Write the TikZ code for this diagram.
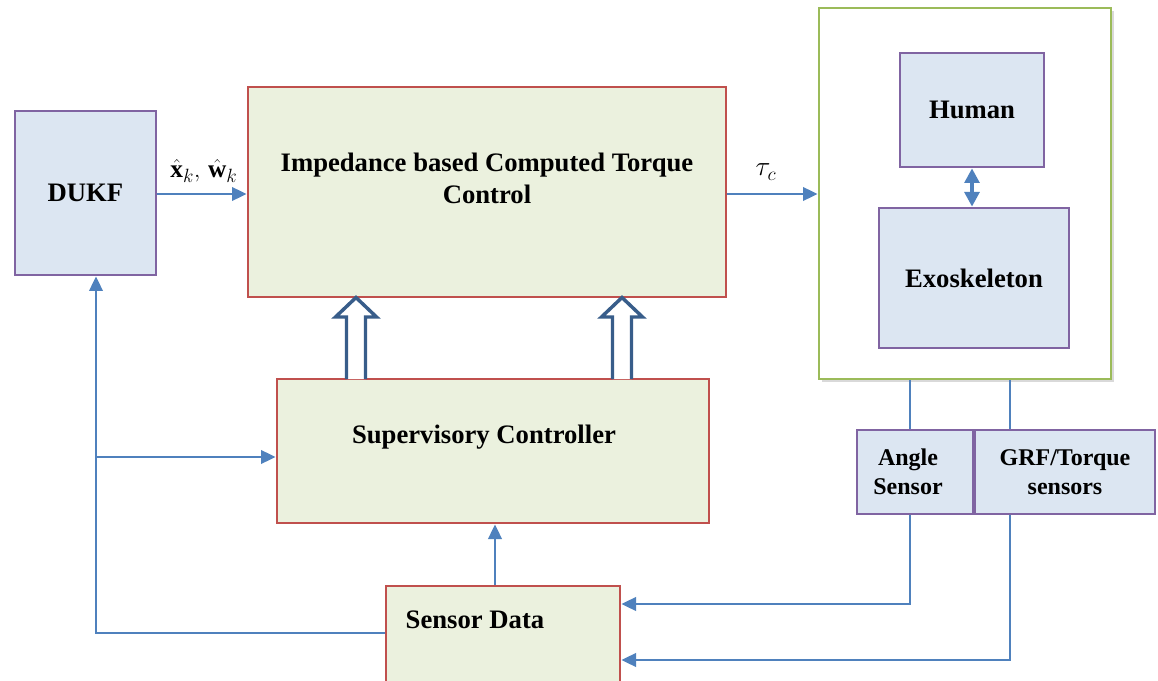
\documentclass[tikz,border=0pt]{standalone}
\usepackage{fontspec}
\setmainfont{Liberation Serif}
\usepackage{amsmath,bm}
\usetikzlibrary{arrows.meta,calc}
\definecolor{bfill}{HTML}{DCE6F2}
\definecolor{bdraw}{HTML}{8064A2}
\definecolor{gfill}{HTML}{EBF1DE}
\definecolor{rdraw}{HTML}{C0504D}
\definecolor{gdraw}{HTML}{9BBB59}
\definecolor{lineblue}{HTML}{4F81BD}
\definecolor{hollow}{HTML}{385D8A}
\tikzset{
  bluebox/.style={draw=bdraw,fill=bfill,line width=2pt,inner sep=0pt},
  greenbox/.style={draw=rdraw,fill=gfill,line width=2pt,inner sep=0pt},
  lbl/.style={font=\fontsize{20}{24}\selectfont\bfseries,align=center,inner sep=0pt},
  slbl/.style={font=\fontsize{18}{22}\selectfont\bfseries,align=center,inner sep=0pt},
  conn/.style={draw=lineblue,line width=2pt},
  arr/.style={conn,-{Triangle[length=11pt,width=10pt]}},
  hollowarrow/.style={draw=hollow,fill=white,line width=2.6pt,line join=miter}
}
\begin{document}
\begin{tikzpicture}[x=0.75pt,y=-0.75pt]
\clip (0,0) rectangle (1158,681);
\fill[white] (0,0) rectangle (1158,681);
% boxes
\node[bluebox,minimum width=105.75pt,minimum height=123pt] (dukf) at (85.5,193) {};
\node[lbl] (dukft) at (85.5,193) {DUKF};
\node[greenbox,minimum width=358.5pt,minimum height=157.5pt] (ictc) at (487,192) {};
\node[lbl] (ictct) at (487,178) {Impedance based Computed Torque\\Control};
\fill[black!15] (822,11) rectangle (1114,382);
\node[draw=gdraw,fill=white,line width=2pt,inner sep=0pt,minimum width=219pt,minimum height=278.25pt] (plant) at (965,193.5) {};
\node[bluebox,minimum width=108pt,minimum height=85.5pt] (human) at (972,110) {};
\node[lbl] (humant) at (972,110) {Human};
\node[bluebox,minimum width=142.5pt,minimum height=105pt] (exo) at (974,278) {};
\node[lbl] (exot) at (974,278) {Exoskeleton};
\node[greenbox,minimum width=324pt,minimum height=108pt] (sup) at (493,451) {};
\node[lbl] (supt) at (484,437) {Supervisory Controller};
\node[bluebox,minimum width=87pt,minimum height=63pt] (angle) at (915,472) {};
\node[slbl] (anglet) at (908,472) {Angle\\Sensor};
\node[bluebox,minimum width=135pt,minimum height=63pt] (grf) at (1065,472) {};
\node[slbl] (grft) at (1065,472) {GRF/Torque\\sensors};
\node[greenbox,minimum width=175.5pt,minimum height=85.5pt] (sd) at (503,643) {};
\node[lbl] (sdt) at (475,620) {Sensor Data};
% coordinates
\coordinate (a1) at (910,0);
\coordinate (a2) at (1010,0);
\coordinate (fb) at (96,0);
% connectors
\draw[arr] (dukf.east |- 0,194) -- (ictc.west |- 0,194);
\node[font=\fontsize{19}{22}\selectfont,inner sep=0pt] (xw) at (204,171) {$\bm{\hat{\mathrm{x}}}_k,\,\bm{\hat{\mathrm{w}}}_k$};
\draw[arr] (ictc.east |- 0,194) -- (plant.west |- 0,194);
\node[font=\fontsize{20}{22}\selectfont,inner sep=0pt] (tau) at (766,172) {$\tau_c$};
\draw[conn,line width=3pt,{Triangle[length=11pt,width=11pt]}-{Triangle[length=11pt,width=11pt]}] (human.south -| 972,0) -- (exo.north -| 972,0);
\draw[conn] (plant.south -| a1) -- (angle.north -| a1);
\draw[conn] (plant.south -| a2) -- (grf.north -| a2);
\draw[arr] (angle.south -| a1) |- (sd.east |- 0,604);
\draw[arr] (grf.south -| a2) |- (sd.east |- 0,660);
\draw[arr] (sd.north -| 495,0) -- (sup.south -| 495,0);
\draw[arr] (sd.west |- 0,633) -| (dukf.south -| fb);
\draw[arr] (fb |- 0,457) -- (sup.west |- 0,457);
% hollow arrows
\foreach \cx in {356,622}{
  \draw[hollowarrow] (\cx-9.5,379) -- (\cx-9.5,317) -- (\cx-20.5,317) -- (\cx,297.5) -- (\cx+20.5,317) -- (\cx+9.5,317) -- (\cx+9.5,379);
}
\end{tikzpicture}
\end{document}
